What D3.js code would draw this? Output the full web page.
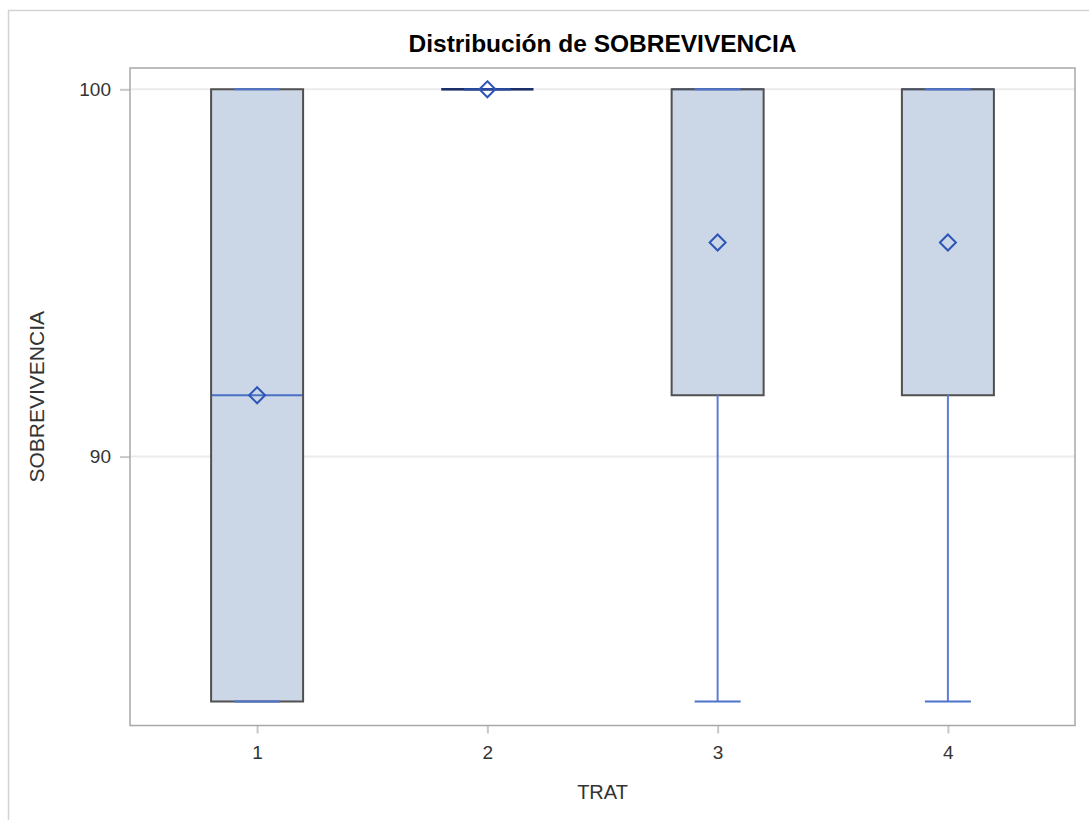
<!DOCTYPE html>
<html>
<head>
<meta charset="utf-8">
<script src="https://cdn.jsdelivr.net/npm/d3@7"></script>
<style>
  body { margin: 0; background: #fff; }
  text { font-family: Arial, "Liberation Sans", sans-serif; fill: #333; }
</style>
</head>
<body>
<svg width="1089" height="820"></svg>
<script>
// box plot summary per TRAT
var trat = ["1", "2", "3", "4"];
var minVals = [83.33, 100, 83.33, 83.33];
var q1Vals = [83.33, 100, 91.67, 91.67];
var medianVals = [91.67, 100, 100, 100];
var q3Vals = [100, 100, 100, 100];
var maxVals = [100, 100, 100, 100];
var meanVals = [91.67, 100, 95.83, 95.83];
var yTicks = [90, 100];

var data = trat.map(function(t, i) {
  return {
    trat: t,
    min: minVals[i],
    q1: q1Vals[i],
    median: medianVals[i],
    q3: q3Vals[i],
    max: maxVals[i],
    mean: meanVals[i]
  };
});

var plot = { left: 130, right: 1075, top: 68, bottom: 725.5 };
var boxWidth = 92, capWidth = 46;

var svg = d3.select("svg");

// outer frame (top + left only)
svg.append("path")
  .attr("d", "M8.5,820 L8.5,10.5 L1089,10.5")
  .attr("fill", "none")
  .attr("stroke", "#d3d3d3")
  .attr("stroke-width", 1.5);

var xScale = d3.scalePoint()
  .domain(trat)
  .range([plot.left, plot.right])
  .padding(0.552);

var yScale = d3.scaleLinear()
  .domain([82.68, 100.58])
  .range([plot.bottom, plot.top]);

// gridlines
svg.append("g")
  .selectAll("line")
  .data(yTicks)
  .enter().append("line")
  .attr("x1", plot.left)
  .attr("x2", plot.right)
  .attr("y1", function(d) { return yScale(d); })
  .attr("y2", function(d) { return yScale(d); })
  .attr("stroke", "#ebebeb")
  .attr("stroke-width", 2);

// axes
var yAxis = svg.append("g")
  .attr("transform", "translate(" + plot.left + ",0)")
  .call(d3.axisLeft(yScale).tickValues(yTicks).tickSize(10).tickPadding(9));
yAxis.select(".domain").remove();
yAxis.selectAll("line").attr("stroke", "#c8c8c8").attr("stroke-width", 2);
yAxis.selectAll("text").attr("font-size", "19px").attr("fill", "#333");

var xAxis = svg.append("g")
  .attr("transform", "translate(0," + plot.bottom + ")")
  .call(d3.axisBottom(xScale).tickSize(8).tickPadding(12));
xAxis.select(".domain").remove();
xAxis.selectAll("line").attr("stroke", "#c8c8c8").attr("stroke-width", 2);
xAxis.selectAll("text").attr("font-size", "19px").attr("fill", "#333");

var g = svg.append("g");
var box = g.selectAll("g.box")
  .data(data)
  .enter().append("g")
  .attr("class", "box");

// box fill
box.append("rect")
  .attr("x", function(d) { return xScale(d.trat) - boxWidth / 2; })
  .attr("y", function(d) { return yScale(d.q3); })
  .attr("width", boxWidth)
  .attr("height", function(d) { return yScale(d.q1) - yScale(d.q3); })
  .attr("fill", "#cbd6e6");

// median
box.append("line")
  .attr("x1", function(d) { return xScale(d.trat) - boxWidth / 2; })
  .attr("x2", function(d) { return xScale(d.trat) + boxWidth / 2; })
  .attr("y1", function(d) { return yScale(d.median); })
  .attr("y2", function(d) { return yScale(d.median); })
  .attr("stroke", "#4a6fc6")
  .attr("stroke-width", 2);

// box outline (path so that a collapsed box still shows)
box.append("path")
  .attr("d", function(d) {
    var x0 = xScale(d.trat) - boxWidth / 2, x1 = xScale(d.trat) + boxWidth / 2;
    var y0 = yScale(d.q3), y1 = yScale(d.q1);
    return "M" + x0 + "," + y0 + "L" + x1 + "," + y0 + "L" + x1 + "," + y1 +
      "L" + x0 + "," + y1 + "Z";
  })
  .attr("fill", "none")
  .attr("stroke", function(d) { return d.q1 == d.q3 ? "#1c2f66" : "#505050"; })
  .attr("stroke-width", function(d) { return d.q1 == d.q3 ? 2.5 : 2; });

// whiskers
box.append("line")
  .attr("x1", function(d) { return xScale(d.trat); })
  .attr("x2", function(d) { return xScale(d.trat); })
  .attr("y1", function(d) { return yScale(d.q1); })
  .attr("y2", function(d) { return yScale(d.min); })
  .attr("stroke", "#5b80d2")
  .attr("stroke-width", 2);
box.append("line")
  .attr("x1", function(d) { return xScale(d.trat); })
  .attr("x2", function(d) { return xScale(d.trat); })
  .attr("y1", function(d) { return yScale(d.q3); })
  .attr("y2", function(d) { return yScale(d.max); })
  .attr("stroke", "#5b80d2")
  .attr("stroke-width", 2);

// caps
["min", "max"].forEach(function(k) {
  box.append("line")
    .attr("x1", function(d) { return xScale(d.trat) - capWidth / 2; })
    .attr("x2", function(d) { return xScale(d.trat) + capWidth / 2; })
    .attr("y1", function(d) { return yScale(d[k]); })
    .attr("y2", function(d) { return yScale(d[k]); })
    .attr("stroke", function(d) { return d.q1 == d.q3 ? "#2a4a9e" : "#4d73cc"; })
    .attr("stroke-width", 2);
});

// mean diamond
box.append("path")
  .attr("d", function(d) {
    var cx = xScale(d.trat), cy = yScale(d.mean), r = 8;
    return "M" + cx + "," + (cy - r) + "L" + (cx + r) + "," + cy +
      "L" + cx + "," + (cy + r) + "L" + (cx - r) + "," + cy + "Z";
  })
  .attr("fill", "none")
  .attr("stroke", "#2e55b8")
  .attr("stroke-width", 2);

// plot border
svg.append("rect")
  .attr("x", plot.left)
  .attr("y", plot.top)
  .attr("width", plot.right - plot.left)
  .attr("height", plot.bottom - plot.top)
  .attr("fill", "none")
  .attr("stroke", "#a8a8a8")
  .attr("stroke-width", 1.5);

// title and labels
svg.append("text")
  .attr("x", (plot.left + plot.right) / 2)
  .attr("y", 52)
  .attr("text-anchor", "middle")
  .attr("font-size", "24.5px")
  .attr("font-weight", "bold")
  .style("fill", "#000")
  .text("Distribución de SOBREVIVENCIA");

svg.append("text")
  .attr("x", (plot.left + plot.right) / 2)
  .attr("y", 799)
  .attr("text-anchor", "middle")
  .attr("font-size", "20px")
  .text("TRAT");

svg.append("text")
  .attr("transform", "translate(44," + (plot.top + plot.bottom) / 2 + ") rotate(-90)")
  .attr("text-anchor", "middle")
  .attr("font-size", "21px")
  .text("SOBREVIVENCIA");
</script>
</body>
</html>
